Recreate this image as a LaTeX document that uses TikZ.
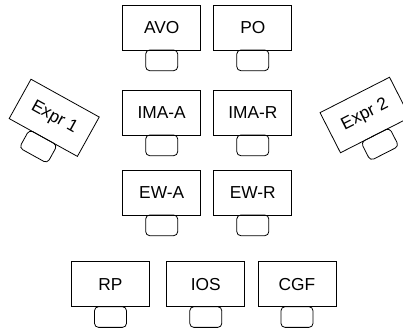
\documentclass[tikz,border=0pt]{standalone}
\usepackage{fontspec}
\setmainfont{Liberation Sans}
\begin{document}
\begin{tikzpicture}[x=0.75pt,y=-0.75pt,
  desk/.style={draw, line width=0.6pt, minimum width=58.5pt, minimum height=33.75pt,
    inner sep=0pt, outer sep=0pt, font=\fontsize{13}{15}\selectfont},
  chair/.style={draw, line width=0.6pt, rounded corners=3pt, minimum width=24pt,
    minimum height=15.5pt, inner sep=0pt, outer sep=0pt, anchor=north}]
\useasboundingbox (0,0) rectangle (403,329);
% desks
\node[desk] (avo) at (161.7,27.5) {AVO};
\node[desk] (po) at (252.8,27.5) {PO};
\node[desk] (imaa) at (161.7,112.5) {IMA-A};
\node[desk] (imar) at (252.8,112.5) {IMA-R};
\node[desk] (ewa) at (161.7,192.5) {EW-A};
\node[desk] (ewr) at (252.8,192.5) {EW-R};
\node[desk] (rp) at (110.5,284.2) {RP};
\node[desk] (ios) at (205.8,284.2) {IOS};
\node[desk] (cgf) at (297,284.2) {CGF};
\node[desk, rotate=-29] (e1) at (54.2,117.8) {Expr 1};
\node[desk, rotate=27] (e2) at (365,115) {Expr 2};
% chairs
\node[chair] (cavo) at (avo.south) {};
\node[chair] (cpo) at (po.south) {};
\node[chair] (cimaa) at (imaa.south) {};
\node[chair] (cimar) at (imar.south) {};
\node[chair] (cewa) at (ewa.south) {};
\node[chair] (cewr) at (ewr.south) {};
\node[chair] (crp) at (rp.south) {};
\node[chair] (cios) at (ios.south) {};
\node[chair] (ccgf) at (cgf.south) {};
\node[chair, rotate=-29] (ce1) at (e1.south) {};
\node[chair, rotate=27] (ce2) at (e2.south) {};
\end{tikzpicture}
\end{document}
